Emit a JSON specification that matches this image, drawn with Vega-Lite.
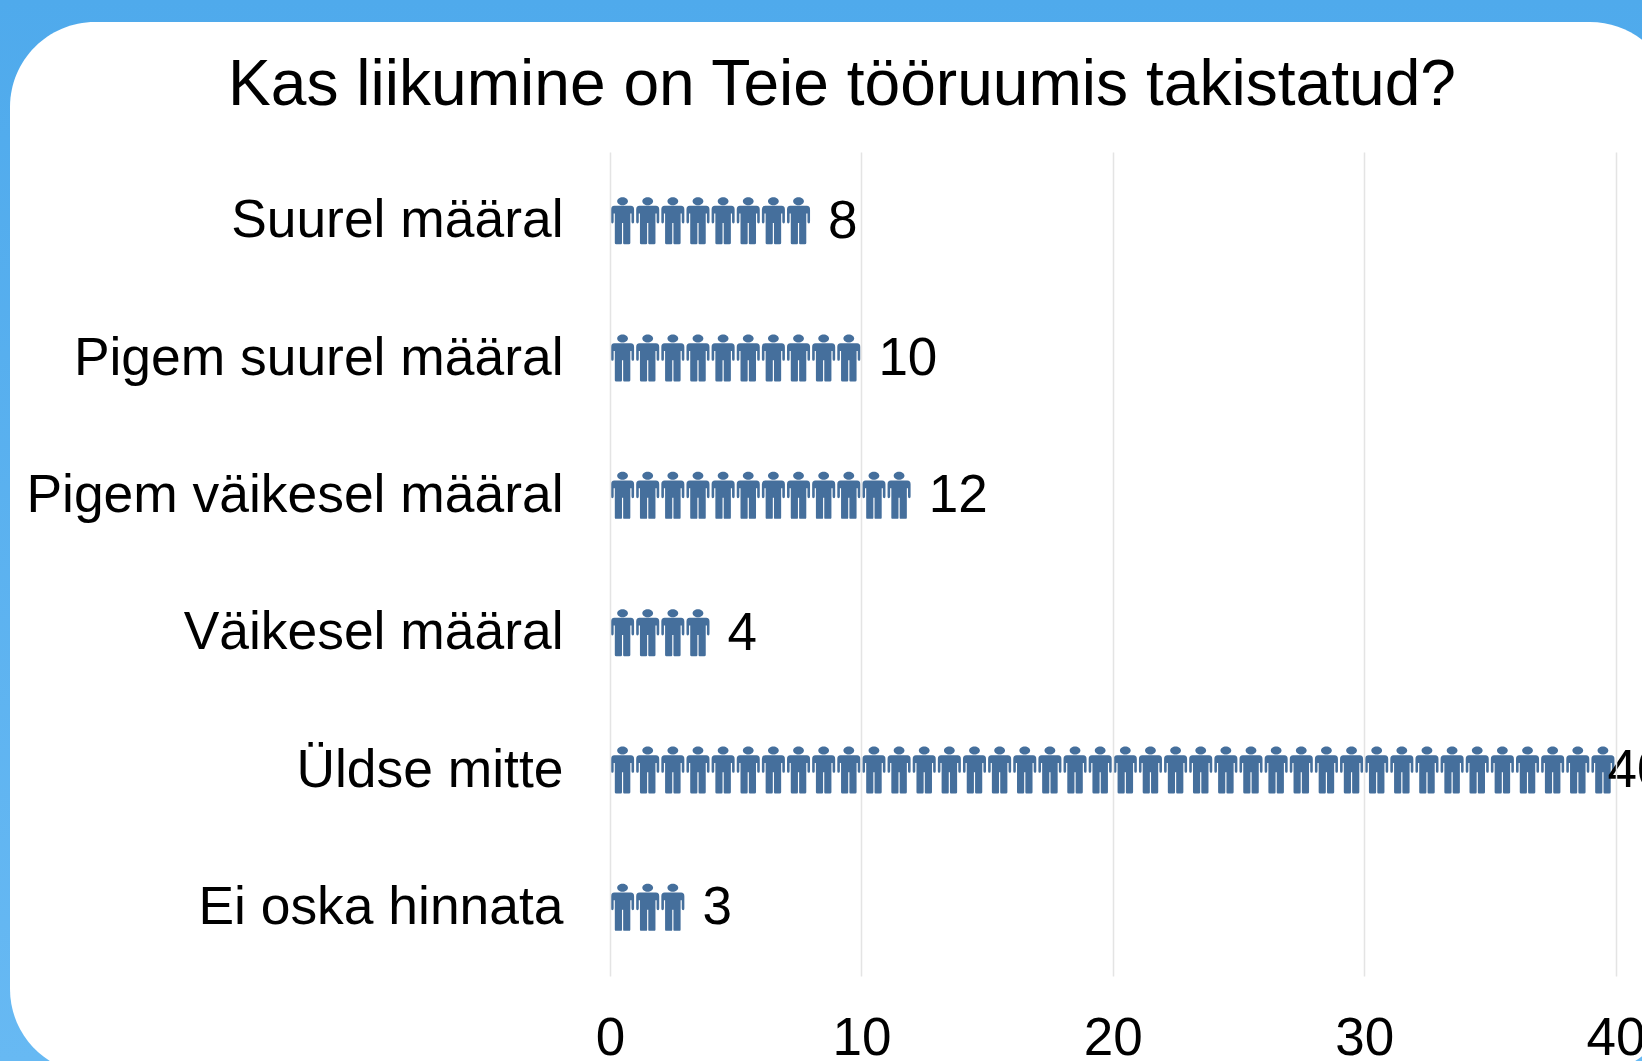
{
"$schema":"https://vega.github.io/schema/vega-lite/v6.json",
"width":1005.5,"height":824,
"autosize":{"type":"none"},
"padding":{"left":610,"top":152,"right":26.5,"bottom":85},
"background":"#5aaeee",
"title":{"text":"Kas liikumine on Teie tööruumis takistatud?","anchor":"start","frame":"group","dx":-382,"offset":-169,"baseline":"alphabetic","fontSize":64.1,"font":"Liberation Sans","fontWeight":"normal","color":"#000000"},
"datasets":{
"totals":[{"c":"Suurel määral","v":8},{"c":"Pigem suurel määral","v":10},{"c":"Pigem väikesel määral","v":12},{"c":"Väikesel määral","v":4},{"c":"Üldse mitte","v":40},{"c":"Ei oska hinnata","v":3}],
"people":[
{"c":"Suurel määral","n":[1,2,3,4,5,6,7,8]},
{"c":"Pigem suurel määral","n":[1,2,3,4,5,6,7,8,9,10]},
{"c":"Pigem väikesel määral","n":[1,2,3,4,5,6,7,8,9,10,11,12]},
{"c":"Väikesel määral","n":[1,2,3,4]},
{"c":"Üldse mitte","n":[1,2,3,4,5,6,7,8,9,10,11,12,13,14,15,16,17,18,19,20,21,22,23,24,25,26,27,28,29,30,31,32,33,34,35,36,37,38,39,40]},
{"c":"Ei oska hinnata","n":[1,2,3]}]
},
"encoding":{
  "y":{"field":"c","type":"nominal","sort":["Suurel määral","Pigem suurel määral","Pigem väikesel määral","Väikesel määral","Üldse mitte","Ei oska hinnata"],
   "scale":{"domain":["Suurel määral","Pigem suurel määral","Pigem väikesel määral","Väikesel määral","Üldse mitte","Ei oska hinnata"],"paddingInner":0,"paddingOuter":0},
   "axis":{"zindex":1,"title":null,"domain":false,"ticks":false,"grid":false,"labelFont":"Liberation Sans","labelFontSize":53.4,"labelColor":"#000000","labelPadding":47,"labelLimit":700}}
},
"layer":[
{"data":{"values":[{"a":1}]},
 "mark":{"type":"rect","fill":{"gradient":"linear","x1":0,"y1":0,"x2":0,"y2":1,"stops":[{"offset":0,"color":"#4faaec"},{"offset":1,"color":"#67b9f3"}]}},
 "encoding":{"x":{"value":-611},"x2":{"value":1033},"y":{"value":-152},"y2":{"value":909}}},
{"data":{"values":[{"a":1}]},
 "mark":{"type":"rect","fill":"#ffffff","cornerRadius":85},
 "encoding":{"x":{"value":-600},"x2":{"value":1065},"y":{"value":-130},"y2":{"value":922}}},
{"data":{"name":"people"},
 "transform":[{"flatten":["n"]},{"calculate":"datum.n-0.5","as":"pos"}],
 "mark":{"type":"point","filled":true,"opacity":1,"strokeWidth":0,"size":2209,"color":"#456f9c",
  "shape":"M-0.23,-0.83 A0.23,0.17 0 1,1 0.23,-0.83 A0.23,0.17 0 1,1 -0.23,-0.83 Z M-0.35,-0.63 L0.35,-0.63 Q0.49,-0.63 0.49,-0.47 L0.49,0.05 Q0.49,0.12 0.44,0.12 Q0.38,0.12 0.38,0.05 L0.38,-0.3 L0.33,-0.3 L0.33,0.95 Q0.33,1 0.27,1 L0.07,1 Q0.025,1 0.025,0.95 L0.025,0.1 L-0.025,0.1 L-0.025,0.95 Q-0.025,1 -0.07,1 L-0.27,1 Q-0.33,1 -0.33,0.95 L-0.33,-0.3 L-0.38,-0.3 L-0.38,0.05 Q-0.38,0.12 -0.44,0.12 Q-0.49,0.12 -0.49,0.05 L-0.49,-0.47 Q-0.49,-0.63 -0.35,-0.63 Z"},
 "encoding":{
  "x":{"field":"pos","type":"quantitative","scale":{"domain":[0,40],"nice":false},
   "axis":{"zindex":1,"values":[0,10,20,30,40],"title":null,"domain":false,"ticks":false,"grid":true,"gridColor":"#e4e4e4","gridWidth":1.5,"labelFont":"Liberation Sans","labelFontSize":53,"labelColor":"#000000","labelPadding":36,"labelFlush":false,"labelOverlap":false,"labelBound":false}}
 }},
{"data":{"name":"totals"},"transform":[{"filter":"datum.v<40"}],
 "mark":{"type":"text","align":"left","baseline":"middle","dx":17,"dy":1,"fontSize":53,"font":"Liberation Sans","color":"#000000"},
 "encoding":{"x":{"field":"v","type":"quantitative"},"text":{"field":"v","type":"quantitative"}}},
{"data":{"name":"totals"},"transform":[{"filter":"datum.v==40"}],
 "mark":{"type":"text","align":"left","baseline":"middle","dx":-8,"dy":1,"fontSize":53,"font":"Liberation Sans","color":"#000000"},
 "encoding":{"x":{"field":"v","type":"quantitative"},"text":{"field":"v","type":"quantitative"}}}
]
}
